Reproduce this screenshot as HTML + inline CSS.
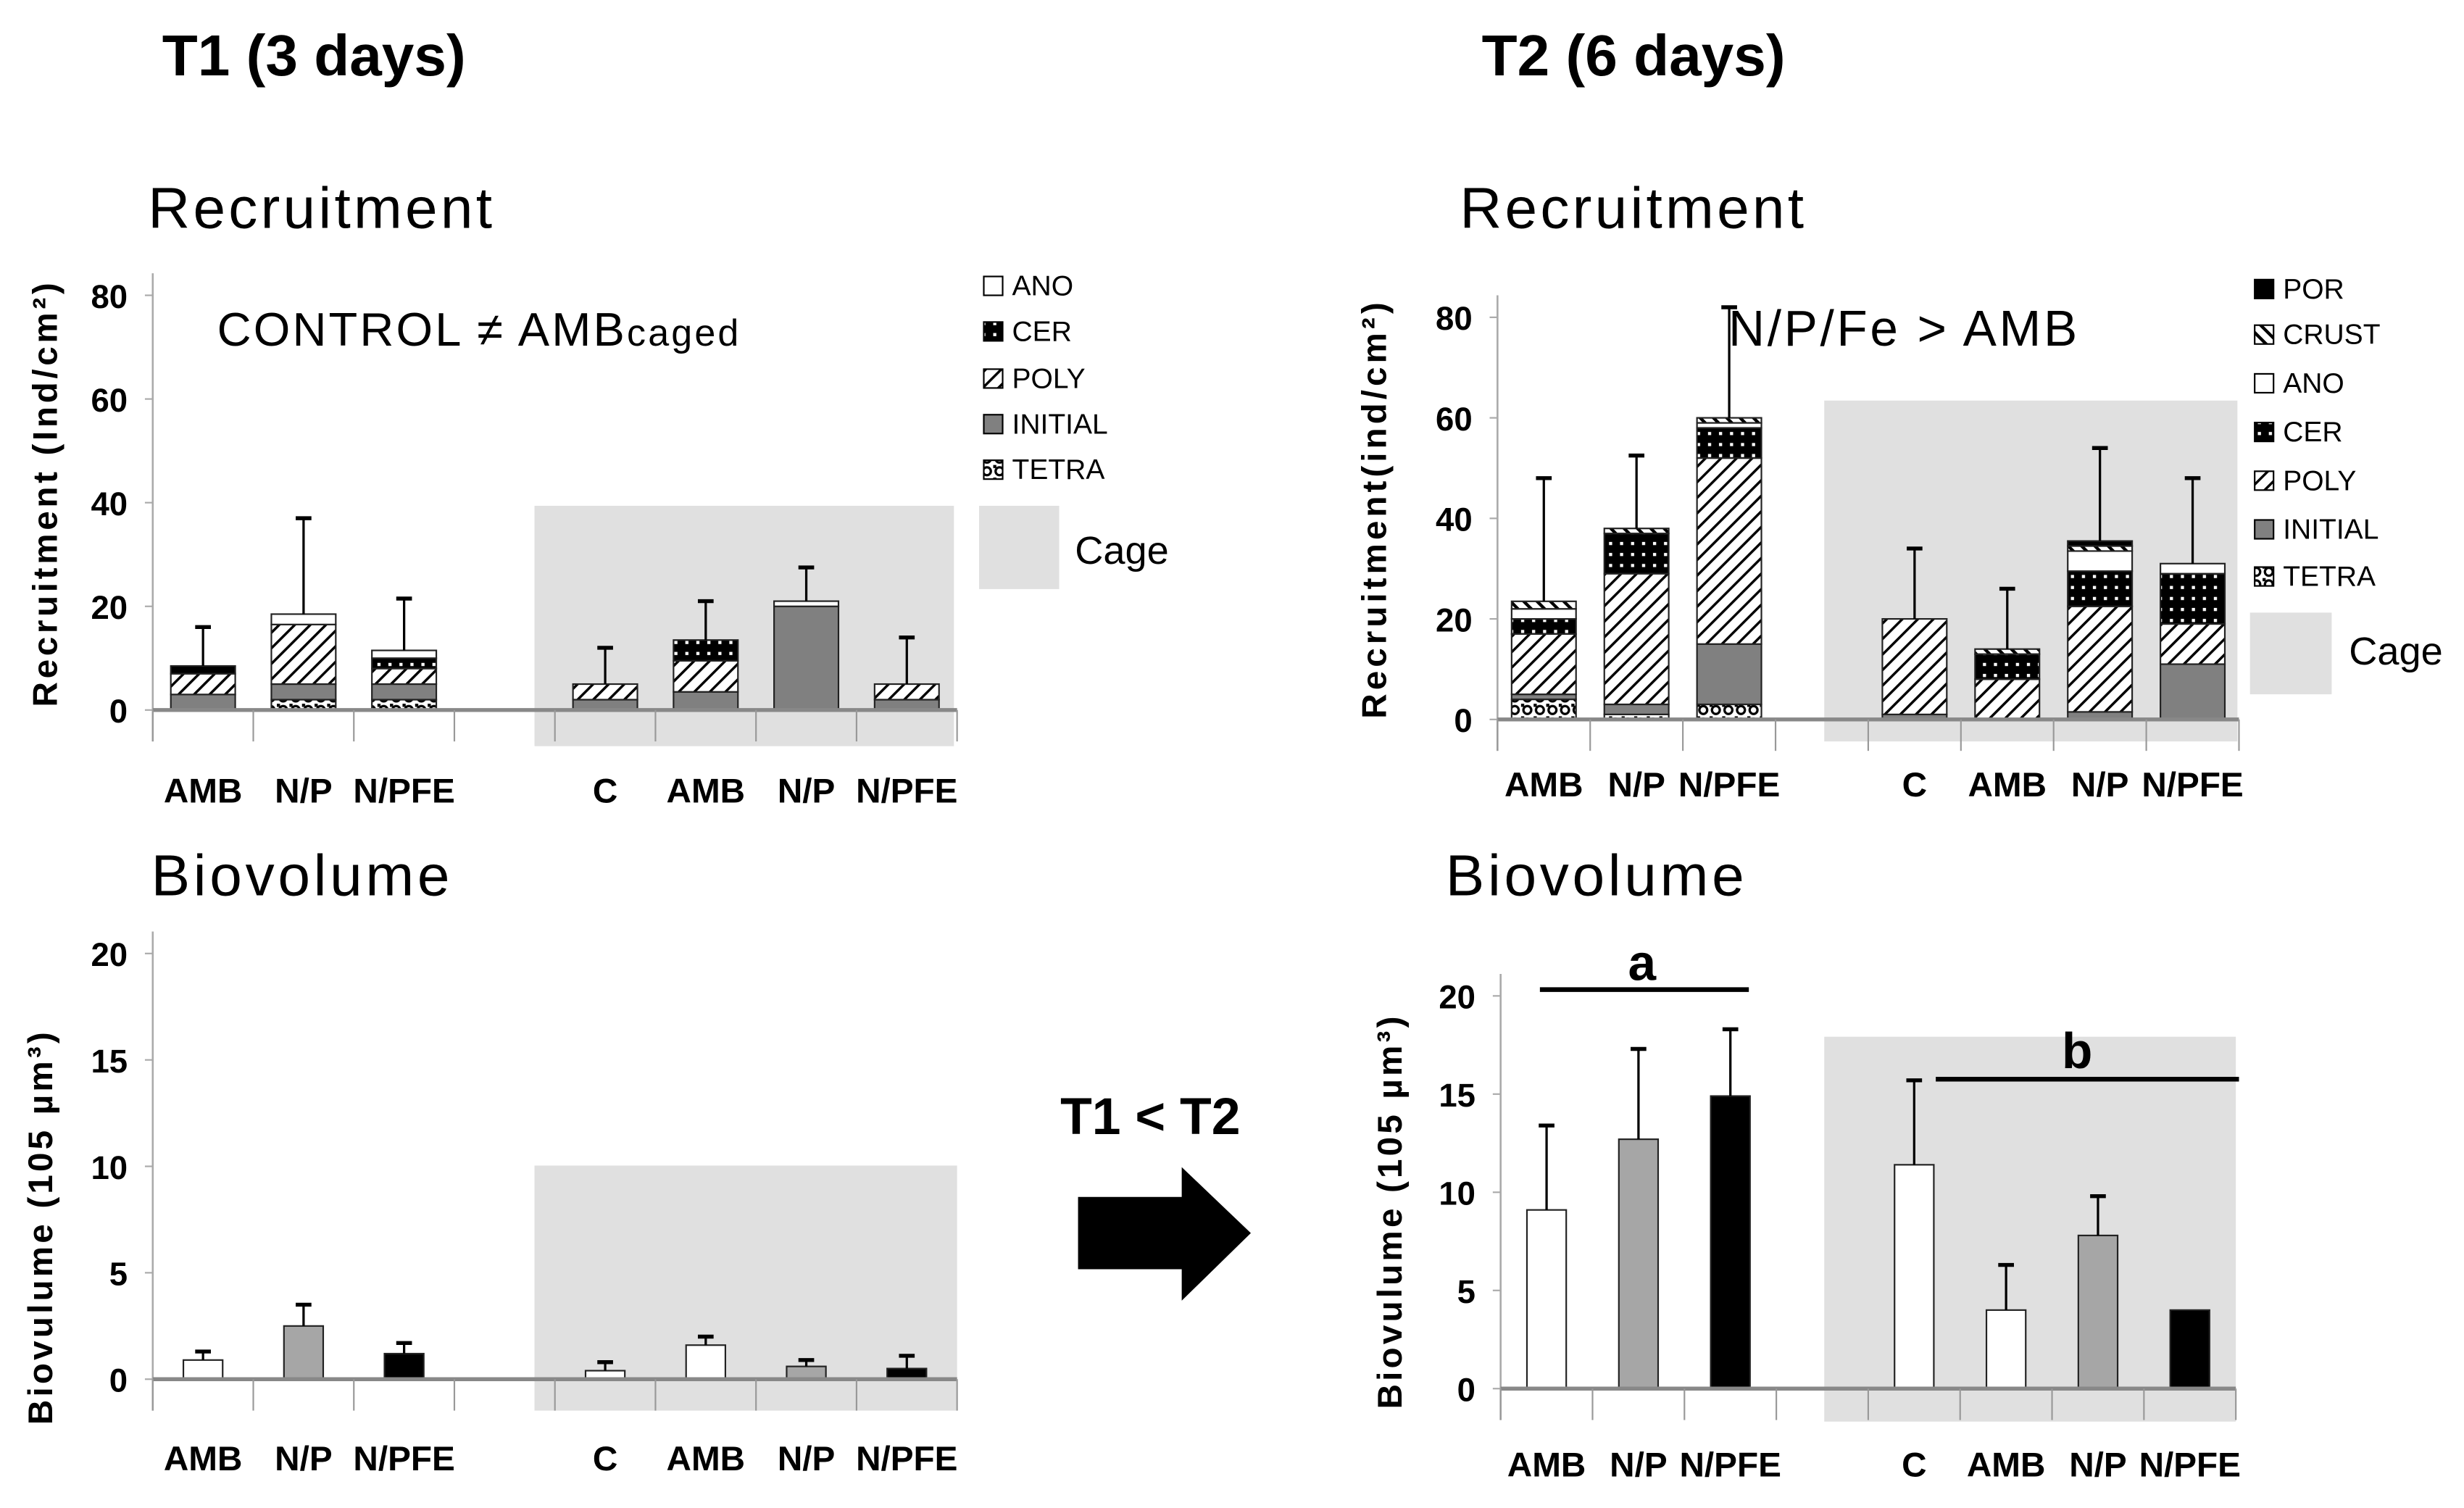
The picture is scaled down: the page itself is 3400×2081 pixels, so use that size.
<!DOCTYPE html>
<html><head><meta charset="utf-8"><style>
html,body{margin:0;padding:0;background:#fff;}
svg{display:block;font-family:"Liberation Sans",sans-serif;}
.b{font-weight:bold;}
</style></head><body>
<svg id="fig" width="3400" height="2081" viewBox="0 0 1568 960" xmlns="http://www.w3.org/2000/svg">
<defs>
<pattern id="p-poly" patternUnits="userSpaceOnUse" width="7" height="7" patternTransform="rotate(45)"><rect width="7" height="7" fill="#fff"/><rect width="1.6" height="7" fill="#000"/></pattern>
<pattern id="p-crust" patternUnits="userSpaceOnUse" width="6" height="6" patternTransform="rotate(-45)"><rect width="6" height="6" fill="#fff"/><rect width="2" height="6" fill="#000"/></pattern>
<pattern id="p-cer" patternUnits="userSpaceOnUse" width="7" height="7"><rect width="7" height="7" fill="#000"/><rect x="2" y="2" width="2" height="2" fill="#fff"/></pattern>
<pattern id="p-tetra" patternUnits="userSpaceOnUse" width="8" height="8"><rect width="8" height="8" fill="#fff"/><circle cx="4" cy="4" r="2.5" fill="none" stroke="#000" stroke-width="1.5"/><rect x="0" y="0" width="2" height="2" fill="#000"/></pattern>
</defs>
<g id="root"></g>
<g>
<rect x="623" y="322" width="51" height="53" fill="#e0e0e0"/>
<text x="684" y="359" font-size="25">Cage</text>
<rect x="1432" y="390" width="52" height="52" fill="#e0e0e0"/>
<text x="1495" y="423" font-size="25">Cage</text>
<text x="103" y="48" font-size="37" class="b">T1 (3 days)</text>
<text x="943" y="48" font-size="37" class="b">T2 (6 days)</text>
<text x="94" y="145" font-size="37" textLength="219">Recruitment</text>
<text x="929" y="145" font-size="37" textLength="219">Recruitment</text>
<text x="96" y="570" font-size="37" textLength="190">Biovolume</text>
<text x="920" y="570" font-size="37" textLength="190">Biovolume</text>
<text x="138" y="220" font-size="30" textLength="332">CONTROL ≠ AMB<tspan font-size="24">caged</tspan></text>
<text x="1100" y="220" font-size="32" textLength="222">N/P/Fe &gt; AMB</text>
<text transform="translate(36,315) rotate(-90)" text-anchor="middle" font-size="22" class="b" textLength="270">Recruitment (Ind/cm²)</text>
<text transform="translate(882,325) rotate(-90)" text-anchor="middle" font-size="22" class="b" textLength="265">Recruitment(ind/cm²)</text>
<text transform="translate(33,782) rotate(-90)" text-anchor="middle" font-size="22" class="b" textLength="250">Biovulume (105 µm³)</text>
<text transform="translate(892,772) rotate(-90)" text-anchor="middle" font-size="22" class="b" textLength="250">Biovulume (105 µm³)</text>
<line x1="980" y1="630" x2="1113" y2="630" stroke="#000" stroke-width="3"/>
<text x="1045" y="624" text-anchor="middle" font-size="32" class="b">a</text>
<line x1="1232" y1="687" x2="1425" y2="687" stroke="#000" stroke-width="3"/>
<text x="1322" y="680" text-anchor="middle" font-size="32" class="b">b</text>
<text x="732" y="722" text-anchor="middle" font-size="33" class="b">T1 &lt; T2</text>
<polygon points="686,762 752,762 752,743 796,785 752,828 752,808 686,808" fill="#000"/>
</g>
</svg>
<script>
// ---- data ----
var recSeries1 = ['TETRA','INITIAL','POLY','CER','ANO'];
var recCats1 = ['AMB','N/P','N/PFE','','C','AMB','N/P','N/PFE'];
var t1Tetra   = [0,2,2,null,0,0,0,0];
var t1Initial = [3,3,3,null,2,3.5,20,2];
var t1Poly    = [4,11.5,3,null,3,6,0,3];
var t1Cer     = [1.5,0,2,null,0,4,0,0];
var t1Ano     = [0,2,1.5,null,0,0,1,0];
var t1Err     = [16,37,21.5,null,12,21,27.5,14];

var recSeries2 = ['TETRA','INITIAL','POLY','CER','ANO','CRUST','POR'];
var t2Tetra   = [4,1,3,null,0,0,0,0];
var t2Initial = [1,2,12,null,1,0,1.5,11];
var t2Poly    = [12,26,37,null,19,8,21,8];
var t2Cer     = [3,8,6,null,0,5,7,10];
var t2Ano     = [2,0,1,null,0,0,4,2];
var t2Crust   = [1.5,1,1,null,0,1,1,0];
var t2Por     = [0,0,0,null,0,0,1,0];
var t2Err     = [48,52.5,82,null,34,26,54,48];

var bioVal1 = [0.9,2.5,1.2,null,0.4,1.6,0.6,0.5];
var bioErr1 = [1.3,3.5,1.7,null,0.8,2.0,0.9,1.1];
var bioVal2 = [9.1,12.7,14.9,null,11.4,4.0,7.8,4.0];
var bioErr2 = [13.4,17.3,18.3,null,15.7,6.3,9.8,null];
var bioColors = ['#fff','#a6a6a6','#000',null,'#fff','#fff','#a6a6a6','#000'];
var recTicks = [0,20,40,60,80];
var bioTicks = [0,5,10,15,20];

var fills = {TETRA:'url(#p-tetra)',INITIAL:'#808080',POLY:'url(#p-poly)',CER:'url(#p-cer)',ANO:'#fff',CRUST:'url(#p-crust)',POR:'#000'};
var NS='http://www.w3.org/2000/svg';
var root=document.getElementById('root');
function mk(tag,attrs,parent,txt){var e=document.createElementNS(NS,tag);for(var k in attrs)e.setAttribute(k,attrs[k]);if(txt!==undefined)e.textContent=txt;(parent||root).appendChild(e);return e;}

function chart(cfg){
  var g=mk('g',{});
  
  
  function X(i){return cfg.x0+(i+0.5)*cfg.slot;}
  function Y(v){return cfg.y0-v*cfg.k;}
  var cg=mk('rect',{x:cfg.cage[0],y:cfg.cage[1],width:cfg.cage[2]-cfg.cage[0],height:cfg.cage[3]-cfg.cage[1],fill:'#e0e0e0'},g);
  
  
  var top=Y(cfg.ticks[cfg.ticks.length-1])-14;
  mk('line',{x1:cfg.x0,y1:top,x2:cfg.x0,y2:cfg.y0+20,stroke:'#aaa','stroke-width':1.2},g);
  cfg.ticks.forEach(function(t){
    mk('line',{x1:cfg.x0-5,y1:Y(t),x2:cfg.x0,y2:Y(t),stroke:'#aaa'},g);
    var tl=mk('text',{x:cfg.x0-16,y:Y(t)+8,'text-anchor':'end','font-size':21,'class':'b'},g,t);
    
    
  });
  for(var i=0;i<cfg.cats.length;i++){
    if(cfg.cats[i]==='')continue;
    var x=X(i)-cfg.bw/2, base=0;
    cfg.series.forEach(function(s){
      var v=s.vals[i]; if(!v)return;
      var r=mk('rect',{x:x,y:Y(base+v),width:cfg.bw,height:v*cfg.k,fill:s.fill,stroke:'#222','stroke-width':1},g);
      
      
      base+=v;
    });
    var e=cfg.err[i];
    if(e!=null){
      mk('line',{x1:X(i),y1:Y(base),x2:X(i),y2:Y(e),stroke:'#000','stroke-width':1.5},g);
      mk('line',{x1:X(i)-5,y1:Y(e),x2:X(i)+5,y2:Y(e),stroke:'#000','stroke-width':2.5},g);
    }
  }
  mk('line',{x1:cfg.x0,y1:cfg.y0,x2:cfg.x0+cfg.cats.length*cfg.slot,y2:cfg.y0,stroke:'#888','stroke-width':2.5},g);
  for(var j=0;j<=cfg.cats.length;j++)mk('line',{x1:cfg.x0+j*cfg.slot,y1:cfg.y0,x2:cfg.x0+j*cfg.slot,y2:cfg.y0+20,stroke:'#999'},g);
  cfg.cats.forEach(function(c,i){ if(!c)return;
    var t=mk('text',{x:X(i),y:cfg.labY,'text-anchor':'middle','font-size':22,'class':'b'},g,c);
    
    
  });
  return g;
}

chart({name:'t1-recruitment-chart',x0:97,slot:64,y0:452,k:3.3,bw:41,cage:[340,322,607,475],ticks:recTicks,cats:recCats1,labY:511,err:t1Err,
  series:[{name:'TETRA',vals:t1Tetra,fill:fills.TETRA},{name:'INITIAL',vals:t1Initial,fill:fills.INITIAL},{name:'POLY',vals:t1Poly,fill:fills.POLY},{name:'CER',vals:t1Cer,fill:fills.CER},{name:'ANO',vals:t1Ano,fill:fills.ANO}]});
chart({name:'t2-recruitment-chart',x0:953,slot:59,y0:458,k:3.2,bw:41,cage:[1161,255,1424,472],ticks:recTicks,cats:recCats1,labY:507,err:t2Err,
  series:[{name:'TETRA',vals:t2Tetra,fill:fills.TETRA},{name:'INITIAL',vals:t2Initial,fill:fills.INITIAL},{name:'POLY',vals:t2Poly,fill:fills.POLY},{name:'CER',vals:t2Cer,fill:fills.CER},{name:'ANO',vals:t2Ano,fill:fills.ANO},{name:'CRUST',vals:t2Crust,fill:fills.CRUST},{name:'POR',vals:t2Por,fill:fills.POR}]});

function bioChart(name,x0,slot,y0,k,cage,vals,errs,labY){
  var cfg={name:name,x0:x0,slot:slot,y0:y0,k:k,bw:25,cage:cage,ticks:bioTicks,cats:recCats1,labY:labY,err:errs,series:[]};
  ['#fff','#a6a6a6','#000'].forEach(function(col,ci){
    cfg.series.push({name:'bio'+ci,fill:col,vals:vals.map(function(v,i){return bioColors[i]===col?v:0;})});
  });
  return chart(cfg);
}
bioChart('t1-biovolume-chart',97,64,878,13.55,[340,742,609,898],bioVal1,bioErr1,936);
bioChart('t2-biovolume-chart',955,58.5,884,12.5,[1161,660,1423,905],bioVal2,bioErr2,940);

function legend(name,x,ys,names,tx){
  names.forEach(function(n,i){
    var g=mk('g',{});
    
    
    mk('rect',{x:x,y:ys[i]-6,width:12,height:12,fill:fills[n],stroke:'#000','stroke-width':1},g);
    mk('text',{x:tx,y:ys[i]+6,'font-size':18},g,n);
  });
}
legend('t1',626,[182,211,241,270,299],['ANO','CER','POLY','INITIAL','TETRA'],644);
legend('t2',1435,[184,213,244,275,306,337,367],['POR','CRUST','ANO','CER','POLY','INITIAL','TETRA'],1453);
</script>
</body></html>
